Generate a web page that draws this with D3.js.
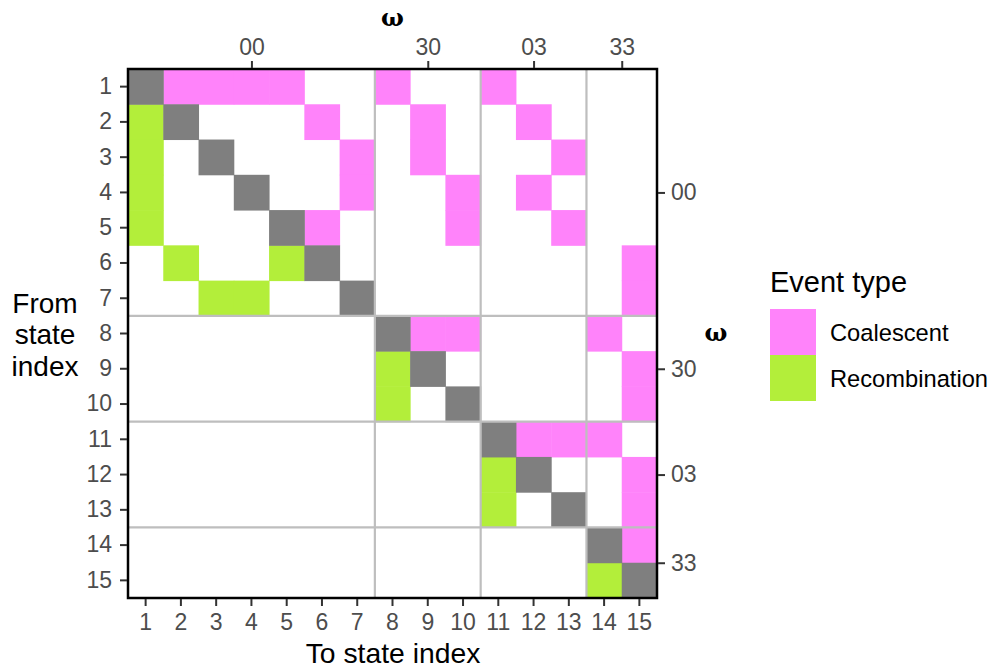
<!DOCTYPE html>
<html>
<head>
<meta charset="utf-8">
<script src="https://cdn.jsdelivr.net/npm/d3@7"></script>
<style>
  body { margin: 0; background: #fff; }
  text { font-family: "Liberation Sans", Arial, sans-serif; }
</style>
</head>
<body>
<svg id="chart" width="993" height="671"></svg>
<script>
// state indices
const states = d3.range(1, 16)

// [from, to] pairs for each event type
const coalescent = [
  [1,2],[1,3],[1,4],[1,5],[1,8],[1,11],
  [2,6],[2,9],[2,12],
  [3,7],[3,9],[3,13],
  [4,7],[4,10],[4,12],
  [5,6],[5,10],[5,13],
  [6,15],[7,15],
  [8,9],[8,10],[8,14],
  [9,15],[10,15],
  [11,12],[11,13],[11,14],
  [12,15],[13,15],
  [14,15]
]
const recombination = [
  [2,1],[3,1],[4,1],[5,1],
  [6,2],[6,5],[7,3],[7,4],
  [9,8],[10,8],
  [12,11],[13,11],
  [15,14]
]

// omega groups
const groupLabels = ['00', '30', '03', '33']
const groupCenters = [4, 9, 12, 14.5]
const groupBreaks = [7.5, 10.5, 13.5]

const eventTypes = ['Coalescent', 'Recombination']
const eventColors = ['#FF83FA', '#B3EE3A']

const margin = {left: 128, top: 69}
const size = 529

const svg = d3.select('#chart')

const x = d3.scaleBand().domain(states).range([margin.left, margin.left + size])
const y = d3.scaleBand().domain(states).range([margin.top, margin.top + size])
const xl = d3.scaleLinear().domain([0.5, 15.5]).range([margin.left, margin.left + size])
const yl = d3.scaleLinear().domain([0.5, 15.5]).range([margin.top, margin.top + size])
const color = d3.scaleOrdinal().domain(eventTypes).range(eventColors)

const cells = coalescent.map(d => ({from: d[0], to: d[1], type: 'Coalescent'}))
  .concat(recombination.map(d => ({from: d[0], to: d[1], type: 'Recombination'})))

svg.append('g').selectAll('rect')
  .data(cells)
  .join('rect')
    .attr('x', d => x(d.to))
    .attr('y', d => y(d.from))
    .attr('width', x.bandwidth() + 0.5)
    .attr('height', y.bandwidth() + 0.5)
    .attr('fill', d => color(d.type))

// diagonal
svg.append('g').selectAll('rect')
  .data(states)
  .join('rect')
    .attr('x', d => x(d))
    .attr('y', d => y(d))
    .attr('width', x.bandwidth() + 0.5)
    .attr('height', y.bandwidth() + 0.5)
    .attr('fill', '#7F7F7F')

// group separators
const sep = svg.append('g').attr('stroke', '#BEBEBE').attr('stroke-width', 2.2)
sep.selectAll('.v').data(groupBreaks).join('line')
  .attr('x1', d => xl(d)).attr('x2', d => xl(d))
  .attr('y1', margin.top).attr('y2', margin.top + size)
sep.selectAll('.h').data(groupBreaks).join('line')
  .attr('y1', d => yl(d)).attr('y2', d => yl(d))
  .attr('x1', margin.left).attr('x2', margin.left + size)

// panel border
svg.append('rect')
  .attr('x', margin.left).attr('y', margin.top)
  .attr('width', size).attr('height', size)
  .attr('fill', 'none').attr('stroke', '#000').attr('stroke-width', 2.5)

function styleAxis(g) {
  g.select('.domain').remove()
  g.selectAll('.tick line').attr('stroke', '#333').attr('stroke-width', 2)
  g.selectAll('.tick text').attr('fill', '#4D4D4D').style('font-size', '23px')
    .style('font-family', '"Liberation Sans", Arial, sans-serif')
}

svg.append('g')
  .attr('transform', `translate(0, ${margin.top + size + 1})`)
  .call(d3.axisBottom(x).tickSize(7).tickPadding(8))
  .call(styleAxis)

svg.append('g')
  .attr('transform', `translate(${margin.left - 1}, 0)`)
  .call(d3.axisLeft(y).tickSize(7).tickPadding(8))
  .call(styleAxis)

svg.append('g')
  .attr('transform', `translate(0, ${margin.top - 1})`)
  .call(d3.axisTop(xl).tickValues(groupCenters).tickFormat((d, i) => groupLabels[i]).tickSize(7).tickPadding(6))
  .call(styleAxis)

svg.append('g')
  .attr('transform', `translate(${margin.left + size + 1}, 0)`)
  .call(d3.axisRight(yl).tickValues(groupCenters).tickFormat((d, i) => groupLabels[i]).tickSize(7).tickPadding(6))
  .call(styleAxis)

// axis titles
svg.append('text')
  .attr('x', 393).attr('y', 663)
  .attr('text-anchor', 'middle')
  .style('font-size', '28.3px')
  .text('To state index')

svg.append('text')
  .attr('x', 45).attr('y', 312.5)
  .attr('text-anchor', 'middle')
  .style('font-size', '28px')
  .selectAll('tspan')
  .data(['From', 'state', 'index'])
  .join('tspan')
    .attr('x', 45)
    .attr('dy', (d, i) => i ? 31.8 : 0)
    .text(d => d)

svg.append('text')
  .attr('x', margin.left + size / 2).attr('y', 26)
  .attr('text-anchor', 'middle')
  .style('font-family', '"DejaVu Serif", "Liberation Serif", serif')
  .style('font-weight', 'bold')
  .style('font-size', '24px')
  .text('ω')

svg.append('text')
  .attr('x', 716).attr('y', 341)
  .attr('text-anchor', 'middle')
  .style('font-family', '"DejaVu Serif", "Liberation Serif", serif')
  .style('font-weight', 'bold')
  .style('font-size', '24px')
  .text('ω')

// legend
const legend = svg.append('g').attr('transform', 'translate(770, 0)')
legend.append('text')
  .attr('x', 0).attr('y', 291.5)
  .style('font-size', '29px')
  .text('Event type')

const keys = legend.selectAll('g.key')
  .data(eventTypes)
  .join('g')
    .attr('transform', (d, i) => `translate(0, ${309 + i * 46})`)
keys.append('rect')
  .attr('width', 46).attr('height', 46)
  .attr('fill', d => color(d))
keys.append('text')
  .attr('x', 60).attr('y', 32)
  .style('font-size', '23.7px')
  .text(d => d)
</script>
</body>
</html>
